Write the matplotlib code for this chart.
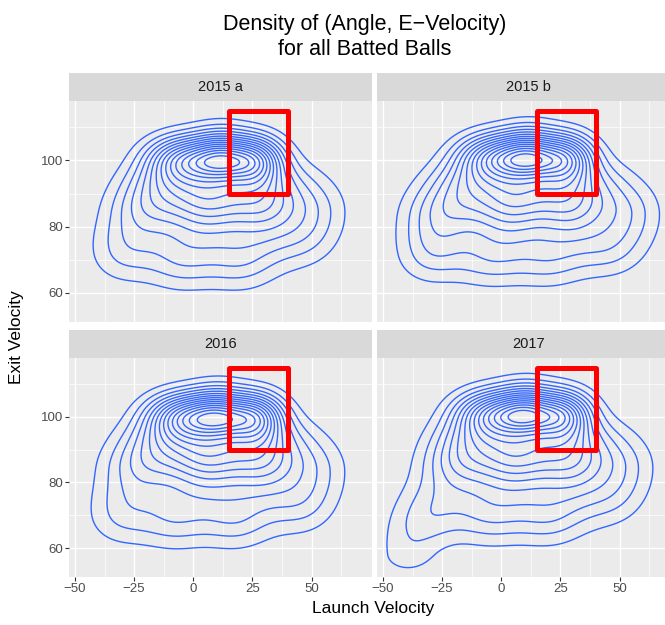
import numpy as np
import matplotlib.pyplot as plt
from matplotlib.patches import Rectangle

plt.rcParams['font.family'] = ['Liberation Sans', 'DejaVu Sans']

# facets
panels = ["2015 a", "2015 b", "2016", "2017"]

# density blobs (a coarse kernel estimate), by row:
# centre x, centre y, spread in x, spread below / above, weight
blob_x = {"2015 a": [-5, 12, 27, -12, 8, 28, 45, -22, 5, 30, 52, -30, -5, 20, 45],
          "2015 b": [-4, 12, 28, -14, 8, 28, 45, -26, 3, 30, 54, -30, -5, 20, 45],
          "2016":   [-5, 11, 27, -12, 8, 28, 45, -24, 5, 30, 52, -31, -8, 18, 45],
          "2017":   [-5, 11, 27, -12, 8, 28, 45, -20, 5, 30, 52, -30, -5, 20, 45, -40]}
blob_y = {"2015 a": [100.5, 100.5, 100.5, 92, 92, 92, 92, 84, 84, 84, 85, 72, 70, 70, 76],
          "2015 b": [101, 101, 101, 92, 92, 92, 92, 83, 84, 84, 84, 71, 70, 70, 73],
          "2016":   [100.3, 100.3, 100.3, 92, 92, 92, 92, 84, 84, 84, 84, 70, 69, 69, 73],
          "2017":   [101, 101, 101, 92, 92, 92, 92, 84, 84, 84, 85, 70, 70, 70, 75, 58]}
blob_sx = {"2015 a": [10, 9, 8, 11, 11, 11, 9, 11, 11, 11, 10, 10, 11, 11, 10],
           "2015 b": [10, 9, 8, 11, 11, 11, 9, 11, 11, 11, 10, 10, 11, 11, 10],
           "2016":   [10, 9, 8, 11, 11, 11, 9, 11, 11, 11, 10, 10, 11, 11, 10],
           "2017":   [10, 9, 8, 11, 11, 11, 9, 11, 11, 11, 10, 10, 11, 11, 10, 9]}
blob_syd = {"2015 a": [5, 4, 5, 7, 7, 7, 7, 8, 8, 8, 8, 6.5, 6.5, 6.5, 6.5],
            "2015 b": [5, 4, 5, 7, 7, 7, 7, 8, 8, 8, 8, 6, 6, 6, 6],
            "2016":   [5, 4, 5, 7, 7, 7, 7, 8, 8, 8, 8, 6.5, 6.5, 6.5, 6.5],
            "2017":   [5, 4, 5, 7, 7, 7, 7, 8, 8, 8, 8, 6.5, 6.5, 6.5, 6.5, 4.5]}
blob_syu = {"2015 a": [4.8, 5.5, 4.8, 6, 6, 6, 6, 7, 7, 7, 7, 7, 7, 7, 7],
            "2015 b": [4.8, 5.5, 4.8, 6, 6, 6, 6, 7, 7, 7, 7, 7, 7, 7, 7],
            "2016":   [4.8, 5.5, 4.8, 6, 6, 6, 6, 7, 7, 7, 7, 7, 7, 7, 7],
            "2017":   [4.8, 5.5, 4.8, 6, 6, 6, 6, 7, 7, 7, 7, 7, 7, 7, 7, 9]}
blob_w = {"2015 a": [.22, .30, .22, .12, .14, .12, .02, .08, .10, .10, .05, .05, .07, .07, .04],
          "2015 b": [.22, .30, .22, .12, .14, .12, .03, .09, .10, .10, .06, .05, .06, .06, .05],
          "2016":   [.23, .28, .23, .12, .14, .12, .02, .08, .10, .10, .05, .05, .07, .07, .05],
          "2017":   [.22, .30, .22, .12, .14, .12, .02, .08, .10, .10, .05, .06, .07, .07, .04, .04]}
n_levels = 15

# red box (launch angle 15-40, exit velocity 90-115)
box_x = [15, 40]
box_y = [90, 115]

x_major = [-50, -25, 0, 25, 50]
x_minor = [-37.5, -12.5, 12.5, 37.5, 62.5]
y_major = [60, 80, 100]
y_minor = [70, 90, 110]
xlim = (-52.5, 75.3)
ylim = (51.2, 118.0)


def density(name, X, Y):
    Z = np.zeros_like(X)
    for cx, cy, sx, sd, su, w in zip(blob_x[name], blob_y[name], blob_sx[name],
                                     blob_syd[name], blob_syu[name], blob_w[name]):
        sy = np.where(Y < cy, sd, su)
        Z += w * np.exp(-0.5 * ((X - cx) / sx) ** 2 - 0.5 * ((Y - cy) / sy) ** 2)
    return Z


W, H = 665, 625
fig = plt.figure(figsize=(W / 100, H / 100), dpi=100)

# panel boxes in pixels: left, top, width, height
pw = 302.5
boxes = [(69, 101, pw, 220.7), (377, 101, pw, 220.7),
         (69, 357.7, pw, 219.3), (377, 357.7, pw, 219.3)]
strip_h = 28

gx = np.linspace(-60, 85, 300)
gy = np.linspace(45, 125, 300)
GX, GY = np.meshgrid(gx, gy)

for i, name in enumerate(panels):
    l, t, w, h = boxes[i]
    ax = fig.add_axes([l / W, 1 - (t + h) / H, w / W, h / H])
    ax.set_facecolor('#EBEBEB')
    for s in ax.spines.values():
        s.set_visible(False)
    ax.set_xlim(*xlim)
    ax.set_ylim(*ylim)
    ax.set_xticks(x_major)
    ax.set_xticks(x_minor, minor=True)
    ax.set_yticks(y_major)
    ax.set_yticks(y_minor, minor=True)
    ax.grid(which='major', color='white', lw=1.0)
    ax.grid(which='minor', color='white', lw=0.5)
    ax.set_axisbelow(True)
    ax.tick_params(which='minor', length=0)
    ax.tick_params(which='major', length=3, width=0.8, color='#333333',
                   labelcolor='#4D4D4D', labelsize=9.5, pad=1.5)
    ax.set_xticklabels(['\u2212' + str(-v) if v < 0 else str(v) for v in x_major])
    if i % 2 == 1:
        ax.tick_params(axis='y', left=False, labelleft=False)
    if i < 2:
        ax.tick_params(axis='x', bottom=False, labelbottom=False)

    Z = density(name, GX, GY)
    zmax = Z.max()
    levels = zmax * np.arange(1, n_levels + 1) / (n_levels + 1)
    ax.contour(GX, GY, Z, levels=levels, colors='#3366FF', linewidths=1.0)

    ax.add_patch(Rectangle((box_x[0], box_y[0]), box_x[1] - box_x[0], box_y[1] - box_y[0],
                           fill=False, ec='red', lw=3.6, joinstyle='round', zorder=5))

    # facet strip
    sax = fig.add_axes([l / W, 1 - t / H, w / W, strip_h / H])
    sax.set_facecolor('#D9D9D9')
    sax.set_xticks([])
    sax.set_yticks([])
    for s in sax.spines.values():
        s.set_visible(False)
    sax.text(0.5, 0.5, name, ha='center', va='center', fontsize=10.5, color='#1A1A1A',
             transform=sax.transAxes)

fig.text(365 / W, 1 - 37 / H, "Density of (Angle, E\u2212Velocity)\nfor all Batted Balls",
         ha='center', va='center', fontsize=15.5, linespacing=1.3)
fig.text(373 / W, 1 - 608 / H, "Launch Velocity", ha='center', va='center', fontsize=12.5)
fig.text(17 / W, 1 - 337 / H, "Exit Velocity", ha='center', va='center', fontsize=12.5,
         rotation=90)

fig.savefig('out.png', dpi=100)
